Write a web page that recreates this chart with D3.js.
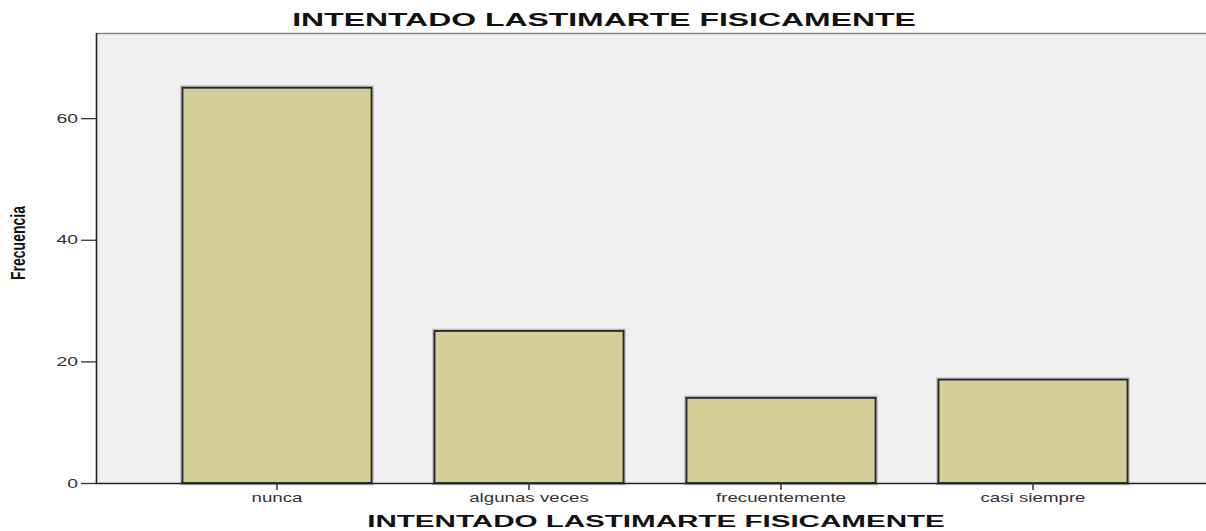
<!DOCTYPE html>
<html><head><meta charset="utf-8">
<script src="https://cdn.jsdelivr.net/npm/d3@7"></script>
<style>body{margin:0;background:#fff}svg{display:block}</style>
</head><body><svg id="c" width="1206" height="531"></svg>
<script>
const categories = ["nunca", "algunas veces", "frecuentemente", "casi siempre"];
const values = [65, 25, 14, 17];
const yTicks = [0, 20, 40, 60];
const title = "INTENTADO LASTIMARTE FISICAMENTE";
const xTitle = "INTENTADO LASTIMARTE FISICAMENTE";
const yTitle = "Frecuencia";

(function () {
const FONT = "Liberation Sans, Arial, sans-serif";
const svg = d3.select("#c");
const pL = 96, pT = 33, pR = 1206, pB = 483;
const y = d3.scaleLinear().domain([0, 74]).range([pB, pT]);
const x = d3.scaleBand().domain(categories).range([151, 1159]).paddingInner(0.25).paddingOuter(0.125);

svg.append("rect").attr("x", pL).attr("y", pT).attr("width", pR - pL).attr("height", pB - pT).attr("fill", "#f0f0f0");
svg.append("line").attr("x1", pL).attr("x2", pR).attr("y1", pT + 0.5).attr("y2", pT + 0.5).attr("stroke", "#8a8a8a").attr("stroke-width", 1.5);

svg.selectAll("rect.halo").data(values).enter().append("rect")
  .attr("class", "halo")
  .attr("x", (d, i) => x(categories[i]))
  .attr("y", d => y(d))
  .attr("width", x.bandwidth())
  .attr("height", d => pB - y(d))
  .attr("fill", "none")
  .attr("stroke", "#b8b8b8").attr("stroke-width", 4.5);

svg.selectAll("rect.bar").data(values).enter().append("rect")
  .attr("class", "bar")
  .attr("x", (d, i) => x(categories[i]))
  .attr("y", d => y(d))
  .attr("width", x.bandwidth())
  .attr("height", d => pB - y(d))
  .attr("fill", "#d3cd98")
  .attr("stroke", "#262626").attr("stroke-width", 1.8);

const ya = svg.append("g").attr("transform", `translate(${pL},0)`)
  .call(d3.axisLeft(y).tickValues(yTicks).tickSize(15).tickPadding(2));
ya.select(".domain").attr("d", `M0.5,${pT}V${pB}`).attr("stroke", "#222").attr("stroke-width", 1.6);
ya.selectAll(".tick line").attr("stroke", "#333").attr("stroke-width", 1.3);
ya.selectAll(".tick text").attr("font-family", FONT).attr("font-size", 12.5).attr("fill", "#333")
  .attr("x", 0).attr("transform", "translate(-18,0) scale(1.55,1)");

const xa = svg.append("g").attr("transform", `translate(0,${pB})`)
  .call(d3.axisBottom(x).tickSize(7).tickPadding(3));
xa.select(".domain").attr("d", `M${pL},0.5H${pR}`).attr("stroke", "#222").attr("stroke-width", 1.6);
xa.selectAll(".tick line").attr("stroke", "#333").attr("stroke-width", 1.5);
xa.selectAll(".tick text").attr("font-family", FONT).attr("font-size", 13).attr("fill", "#333")
  .attr("transform", "scale(1.44,1)");

function stretched(txt, cx, cy, size, targetW) {
  const t = svg.append("text").attr("text-anchor", "middle")
    .attr("font-family", FONT).attr("font-weight", "bold").attr("font-size", size).attr("fill", "#111").text(txt);
  const w = t.node().getComputedTextLength();
  t.attr("transform", `translate(${cx},${cy}) scale(${targetW / w},1)`);
}
stretched(title, 604, 26, 18, 624);
stretched(xTitle, 656, 527, 16, 578);

svg.append("text").attr("transform", "translate(25,243) rotate(-90) scale(1,1.5)").attr("text-anchor", "middle")
  .attr("font-family", FONT).attr("font-weight", "bold").attr("font-size", 14).attr("fill", "#111").text(yTitle);
})();
</script></body></html>
